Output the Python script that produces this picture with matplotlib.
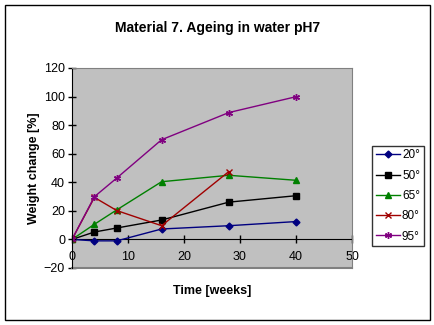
import matplotlib
matplotlib.use("Agg")
import matplotlib.pyplot as plt
from matplotlib.patches import Rectangle

plt.rcParams['font.family'] = ['Liberation Sans', 'DejaVu Sans']

weeks = [0, 4, 8, 16, 28, 40]
weeks_80 = [0, 4, 8, 16, 28]
s20 = [0, -1, -1, 7.3, 9.6, 12.5]
s50 = [0, 5.2, 8, 13.6, 26.1, 30.6]
s65 = [0, 10.6, 20.7, 40.4, 44.9, 41.4]
s80 = [0, 29.4, 20.2, 9.6, 47.5]
s95 = [0, 29.9, 43, 69.8, 88.8, 99.9]
labels = ['20°', '50°', '65°', '80°', '95°']
xticks = [0, 10, 20, 30, 40, 50]
yticks = [-20, 0, 20, 40, 60, 80, 100, 120]

fig = plt.figure(figsize=(4.35, 3.25), dpi=100)
fig.patch.set_facecolor('white')
fig.patches.append(Rectangle((5/435, 5/325), 425/435, 315/325, transform=fig.transFigure,
                             fill=False, edgecolor='black', linewidth=1))

ax = fig.add_axes([72/435, 57/325, 280/435, 200/325])
ax.set_facecolor('#C0C0C0')

ax.plot(weeks, s20, color='#000080', marker='D', markersize=3.5, lw=1, label=labels[0])
ax.plot(weeks, s50, color='black', marker='s', markersize=4.5, lw=1, label=labels[1])
ax.plot(weeks, s65, color='#008000', marker='^', markersize=5, lw=1, label=labels[2])
ax.plot(weeks_80, s80, color='#A00000', marker='x', markersize=4, mew=1, lw=1, label=labels[3])
ax.plot(weeks, s95, color='#800080', marker=(6, 2, 0), markersize=5, mew=1, lw=1, label=labels[4])

ax.set_xlim(0, 50)
ax.set_ylim(-20, 120)
ax.set_xticks(xticks)
ax.set_yticks(yticks)
ax.tick_params(labelsize=9, direction='inout', length=6, width=1, colors='black')
ax.tick_params(axis='x', pad=5)
ax.tick_params(axis='y', pad=2)

for s in ['top', 'right']:
    ax.spines[s].set_color('#808080')
ax.spines['left'].set_color('black')
ax.spines['bottom'].set_position(('data', 0))
ax.spines['bottom'].set_color('black')
ax.spines['bottom'].set_zorder(1)
ax.axhline(-20, color='#808080', lw=1.5, clip_on=False)

ax.set_xlabel('Time [weeks]', fontsize=9, fontweight='bold')
ax.xaxis.set_label_coords(0.5, -0.085)
ax.set_ylabel('Weight change [%]', fontsize=9, fontweight='bold', labelpad=3)

fig.text(0.5, 297/325, 'Material 7. Ageing in water pH7', ha='center', va='center',
         fontsize=10, fontweight='bold')

leg = fig.legend(loc='center', bbox_to_anchor=(398/435, (325-196)/325), fontsize=8.5,
                 frameon=True, fancybox=False, edgecolor='black', handlelength=2.0,
                 labelspacing=0.7, borderpad=0.3, handletextpad=0.2, borderaxespad=0)
leg.get_frame().set_linewidth(1)

fig.savefig('out.png', dpi=100)
